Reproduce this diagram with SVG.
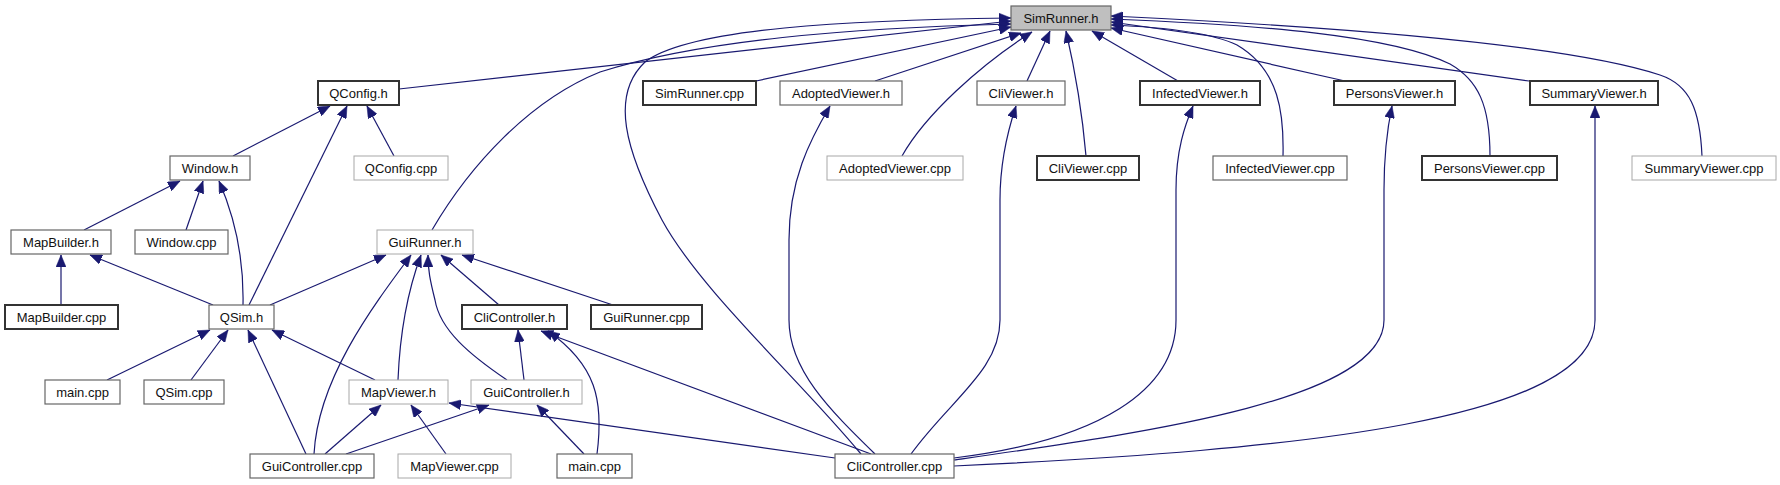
<svg xmlns="http://www.w3.org/2000/svg" width="1780" height="485" viewBox="0 0 1780 485">
<style>
.n rect{fill:#ffffff}
.d rect{stroke:#333333;stroke-width:2}
.m rect{stroke:#666666;stroke-width:1.2}
.l rect{stroke:#a8a8a8;stroke-width:1}
.root rect{fill:#bfbfbf}
text{font-family:"Liberation Sans",Arial,sans-serif;font-size:13px;fill:#111;text-anchor:middle}
#edges path{fill:none;stroke:#191970;stroke-width:1.2;marker-end:url(#ah)}
</style>
<defs>
<marker id="ah" markerUnits="userSpaceOnUse" markerWidth="13" markerHeight="10" refX="12" refY="5" orient="auto">
<path d="M0,0 L12,5 L0,10 z" fill="#191970" stroke="#191970" stroke-width="0.5"/>
</marker>
</defs>
<rect width="1780" height="485" fill="#ffffff"/>
<g id="edges">
<path d="M861,454 C800,380 700,290 662,220 C625,150 610,95 645,62 C690,28 850,20 1011,18"/>
<path d="M399,89 L1011,21"/>
<path d="M432,230 C470,165 530,100 600,72 C700,40 850,28 1011,24"/>
<path d="M756,81 L1011,27"/>
<path d="M875,81 L1021,33"/>
<path d="M902,156 C925,115 980,65 1032,32"/>
<path d="M1027,81 L1050,31"/>
<path d="M1086,156 C1082,110 1075,70 1066,31"/>
<path d="M1178,81 L1092,31"/>
<path d="M1283,156 C1284,115 1280,70 1237,45 C1210,32 1160,27 1111,25"/>
<path d="M1345,81 L1111,28"/>
<path d="M1490,156 C1490,105 1478,80 1450,64 C1390,35 1260,25 1111,19"/>
<path d="M1529,81 L1111,22"/>
<path d="M1702,156 C1700,110 1690,85 1660,75 C1560,42 1300,25 1111,16"/>
<path d="M875,454 C830,410 789,370 789,320 L789,240 C789,180 810,140 830,106"/>
<path d="M911,454 C950,400 1000,370 1000,320 L1000,200 C1000,160 1008,130 1016,106"/>
<path d="M954,458 C1100,440 1176,390 1176,320 L1176,190 C1176,150 1185,125 1193,106"/>
<path d="M954,460 C1150,432 1384,400 1384,320 L1384,190 C1384,150 1388,125 1392,106"/>
<path d="M954,466 C1300,450 1595,420 1595,320 L1595,106"/>
<path d="M871,454 L541,331"/>
<path d="M835,458 L449,403"/>
<path d="M346,454 L489,405"/>
<path d="M584,454 L537,405"/>
<path d="M524,380 L518,330"/>
<path d="M597,454 C604,400 596,365 548,331"/>
<path d="M270,305 L386,255"/>
<path d="M314,454 C318,380 370,310 411,255"/>
<path d="M398,380 C400,330 408,290 421,255"/>
<path d="M507,380 C470,355 440,330 435,300 C430,280 428,270 428,255"/>
<path d="M499,305 L441,255"/>
<path d="M613,305 L462,255"/>
<path d="M233,156 L330,106"/>
<path d="M249,305 L347,106"/>
<path d="M394,156 L367,106"/>
<path d="M84,230 L180,181"/>
<path d="M186,230 L203,181"/>
<path d="M243,305 C244,260 236,220 219,181"/>
<path d="M61,305 L61,255"/>
<path d="M213,305 L90,255"/>
<path d="M107,380 L210,330"/>
<path d="M191,380 L228,330"/>
<path d="M306,454 L248,330"/>
<path d="M375,380 L272,330"/>
<path d="M325,454 L381,405"/>
<path d="M446,454 L411,405"/>
</g>
<g id="SimRunner_h" class="n m root"><rect x="1011" y="6" width="100" height="24"/><text x="1061" y="22.5">SimRunner.h</text></g>
<g id="QConfig_h" class="n d"><rect x="318" y="81" width="81" height="24"/><text x="358.5" y="97.5">QConfig.h</text></g>
<g id="SimRunner_cpp" class="n d"><rect x="643" y="81" width="113" height="24"/><text x="699.5" y="97.5">SimRunner.cpp</text></g>
<g id="AdoptedViewer_h" class="n m"><rect x="780" y="81" width="122" height="24"/><text x="841" y="97.5">AdoptedViewer.h</text></g>
<g id="CliViewer_h" class="n m"><rect x="977" y="81" width="88" height="24"/><text x="1021" y="97.5">CliViewer.h</text></g>
<g id="InfectedViewer_h" class="n d"><rect x="1140" y="81" width="120" height="24"/><text x="1200" y="97.5">InfectedViewer.h</text></g>
<g id="PersonsViewer_h" class="n d"><rect x="1334" y="81" width="121" height="24"/><text x="1394.5" y="97.5">PersonsViewer.h</text></g>
<g id="SummaryViewer_h" class="n d"><rect x="1530" y="81" width="128" height="24"/><text x="1594" y="97.5">SummaryViewer.h</text></g>
<g id="Window_h" class="n m"><rect x="170" y="156" width="80" height="24"/><text x="210" y="172.5">Window.h</text></g>
<g id="QConfig_cpp" class="n l"><rect x="354" y="156" width="94" height="24"/><text x="401" y="172.5">QConfig.cpp</text></g>
<g id="AdoptedViewer_cpp" class="n l"><rect x="827" y="156" width="136" height="24"/><text x="895" y="172.5">AdoptedViewer.cpp</text></g>
<g id="CliViewer_cpp" class="n d"><rect x="1037" y="156" width="102" height="24"/><text x="1088" y="172.5">CliViewer.cpp</text></g>
<g id="InfectedViewer_cpp" class="n m"><rect x="1213" y="156" width="134" height="24"/><text x="1280" y="172.5">InfectedViewer.cpp</text></g>
<g id="PersonsViewer_cpp" class="n d"><rect x="1422" y="156" width="135" height="24"/><text x="1489.5" y="172.5">PersonsViewer.cpp</text></g>
<g id="SummaryViewer_cpp" class="n l"><rect x="1632" y="156" width="144" height="24"/><text x="1704" y="172.5">SummaryViewer.cpp</text></g>
<g id="MapBuilder_h" class="n m"><rect x="11" y="230" width="100" height="24"/><text x="61" y="246.5">MapBuilder.h</text></g>
<g id="Window_cpp" class="n m"><rect x="135" y="230" width="93" height="24"/><text x="181.5" y="246.5">Window.cpp</text></g>
<g id="GuiRunner_h" class="n l"><rect x="377" y="230" width="96" height="24"/><text x="425" y="246.5">GuiRunner.h</text></g>
<g id="MapBuilder_cpp" class="n d"><rect x="5" y="305" width="113" height="24"/><text x="61.5" y="321.5">MapBuilder.cpp</text></g>
<g id="QSim_h" class="n m"><rect x="209" y="305" width="65" height="24"/><text x="241.5" y="321.5">QSim.h</text></g>
<g id="CliController_h" class="n d"><rect x="462" y="305" width="105" height="24"/><text x="514.5" y="321.5">CliController.h</text></g>
<g id="GuiRunner_cpp" class="n d"><rect x="591" y="305" width="111" height="24"/><text x="646.5" y="321.5">GuiRunner.cpp</text></g>
<g id="main_cpp_1" class="n m"><rect x="45" y="380" width="75" height="24"/><text x="82.5" y="396.5">main.cpp</text></g>
<g id="QSim_cpp" class="n m"><rect x="144" y="380" width="80" height="24"/><text x="184" y="396.5">QSim.cpp</text></g>
<g id="MapViewer_h" class="n l"><rect x="349" y="380" width="99" height="24"/><text x="398.5" y="396.5">MapViewer.h</text></g>
<g id="GuiController_h" class="n l"><rect x="471" y="380" width="111" height="24"/><text x="526.5" y="396.5">GuiController.h</text></g>
<g id="GuiController_cpp" class="n m"><rect x="250" y="454" width="124" height="24"/><text x="312" y="470.5">GuiController.cpp</text></g>
<g id="MapViewer_cpp" class="n l"><rect x="398" y="454" width="113" height="24"/><text x="454.5" y="470.5">MapViewer.cpp</text></g>
<g id="main_cpp_2" class="n m"><rect x="557" y="454" width="75" height="24"/><text x="594.5" y="470.5">main.cpp</text></g>
<g id="CliController_cpp" class="n m"><rect x="835" y="454" width="119" height="24"/><text x="894.5" y="470.5">CliController.cpp</text></g>
</svg>
